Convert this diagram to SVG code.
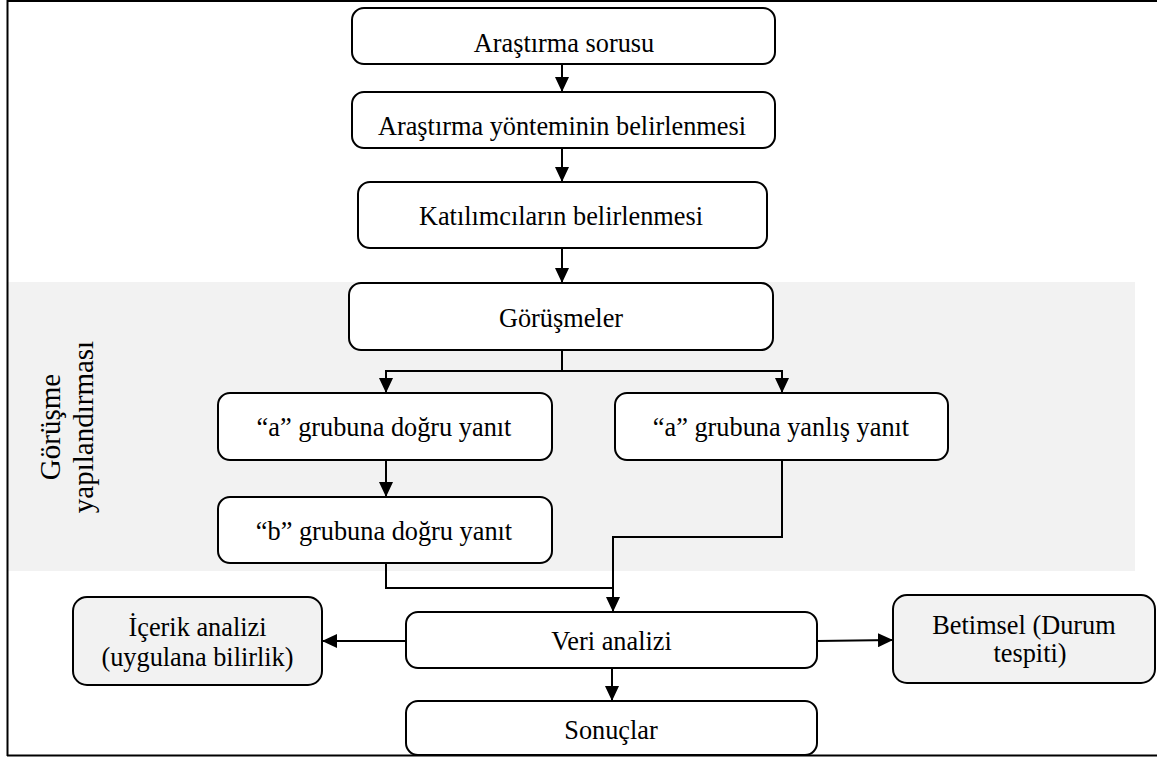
<svg xmlns="http://www.w3.org/2000/svg" width="1157" height="758" viewBox="0 0 1157 758">
<style>
.box{fill:#ffffff;stroke:#000;stroke-width:2}
.gbox{fill:#f2f2f2;stroke:#000;stroke-width:2}
.t{font-family:"Liberation Serif","Times New Roman",serif;font-size:26.3px;fill:#000;text-anchor:middle}
.vt{font-family:"Liberation Serif","Times New Roman",serif;font-size:29px;fill:#000;text-anchor:middle}
.ln{fill:none;stroke:#000;stroke-width:2}
</style>
<defs>
<marker id="ah" markerUnits="userSpaceOnUse" markerWidth="15" markerHeight="14" refX="15" refY="7" orient="auto">
<path d="M0,0 L15,7 L0,14 z" fill="#000"/>
</marker>
</defs>
<rect width="1157" height="758" fill="#ffffff"/>
<g id="frame">
<rect x="8" y="282" width="1127" height="289" fill="#f2f2f2"/>
<path class="ln" d="M7.5,0 V756 M7,1 H1157 M7,755.5 H1157"/>
</g>
<g id="side-label">
<text class="vt" transform="translate(60,427) rotate(-90)">Görüşme</text>
<text class="vt" transform="translate(93,427) rotate(-90)">yapılandırması</text>
</g>
<g id="connectors">
<path class="ln" d="M562,64 V92" marker-end="url(#ah)"/>
<path class="ln" d="M562,148 V182" marker-end="url(#ah)"/>
<path class="ln" d="M562,248 V283" marker-end="url(#ah)"/>
<path class="ln" d="M562,350 V371 M385,371 H783"/>
<path class="ln" d="M386,371 V393" marker-end="url(#ah)"/>
<path class="ln" d="M782,371 V393" marker-end="url(#ah)"/>
<path class="ln" d="M386,460 V497" marker-end="url(#ah)"/>
<path class="ln" d="M782,460 V537 H613 V612" marker-end="url(#ah)"/>
<path class="ln" d="M386,563 V588 H613"/>
<path class="ln" d="M612,668 V701" marker-end="url(#ah)"/>
<path class="ln" d="M406,641 H322" marker-end="url(#ah)"/>
<path class="ln" d="M817,641 L893,640" marker-end="url(#ah)"/>
</g>
<g id="n1"><rect class="box" x="352" y="8" width="423" height="56" rx="12"/><text class="t" x="564" y="52">Araştırma sorusu</text></g>
<g id="n2"><rect class="box" x="352" y="92" width="423" height="56" rx="12"/><text class="t" x="562" y="135">Araştırma yönteminin belirlenmesi</text></g>
<g id="n3"><rect class="box" x="358" y="182" width="409" height="66" rx="12"/><text class="t" x="561" y="225">Katılımcıların belirlenmesi</text></g>
<g id="n4"><rect class="box" x="349" y="283" width="424" height="67" rx="12"/><text class="t" x="561" y="327">Görüşmeler</text></g>
<g id="n5"><rect class="box" x="218" y="393" width="334" height="67" rx="12"/><text class="t" x="384" y="436">“a” grubuna doğru yanıt</text></g>
<g id="n6"><rect class="box" x="615" y="393" width="333" height="67" rx="12"/><text class="t" x="781" y="436">“a” grubuna yanlış yanıt</text></g>
<g id="n7"><rect class="box" x="218" y="497" width="334" height="66" rx="12"/><text class="t" x="384" y="540">“b” grubuna doğru yanıt</text></g>
<g id="n8"><rect class="box" x="406" y="612" width="411" height="56" rx="12"/><text class="t" x="611.5" y="650">Veri analizi</text></g>
<g id="n9"><rect class="box" x="406" y="701" width="411" height="54" rx="12"/><text class="t" x="611" y="739">Sonuçlar</text></g>
<g id="n10"><rect class="gbox" x="73" y="597" width="249" height="88" rx="14"/><text class="t" x="197.5" y="636">İçerik analizi</text><text class="t" x="197.5" y="666">(uygulana bilirlik)</text></g>
<g id="n11"><rect class="gbox" x="893" y="595" width="262" height="88" rx="14"/><text class="t" x="1024" y="634">Betimsel (Durum</text><text class="t" x="1030" y="662">tespiti)</text></g>
</svg>
